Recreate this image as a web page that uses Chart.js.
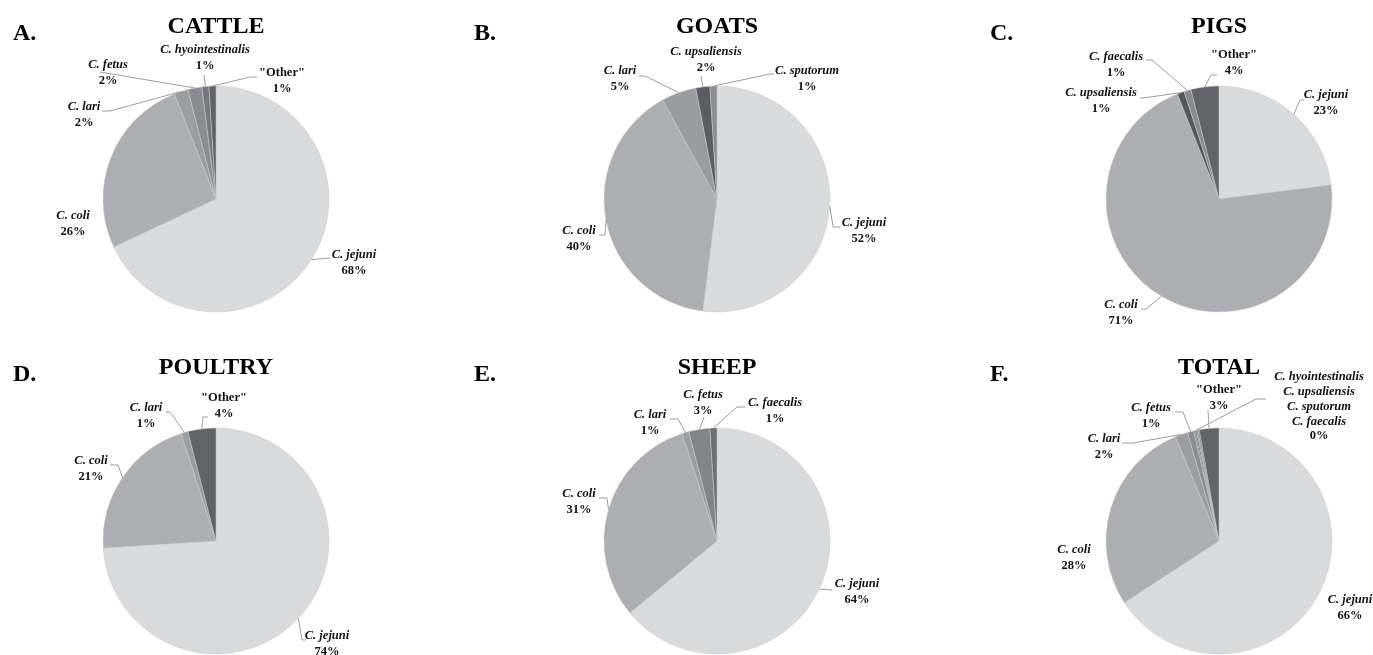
<!DOCTYPE html>
<html>
<head>
<meta charset="utf-8">
<script src="https://cdn.jsdelivr.net/npm/chart.js@4/dist/chart.umd.min.js"></script>
<style>
  body { margin: 0; background: #fff; }
  #wrap { position: relative; width: 1373px; height: 655px; overflow: hidden; }
  #wrap canvas { position: absolute; }
</style>
</head>
<body>
<div id="wrap"></div>
<script>
// data (percent of isolates per species)
const cattleSpecies = ['C. jejuni', 'C. coli', 'C. lari', 'C. fetus', 'C. hyointestinalis', '"Other"'];
const cattleValues = [68, 26, 2, 2, 1, 1];

const goatSpecies = ['C. jejuni', 'C. coli', 'C. lari', 'C. upsaliensis', 'C. sputorum'];
const goatValues = [52, 40, 5, 2, 1];

const pigSpecies = ['C. jejuni', 'C. coli', 'C. upsaliensis', 'C. faecalis', '"Other"'];
const pigValues = [23, 71, 1, 1, 4];

const poultrySpecies = ['C. jejuni', 'C. coli', 'C. lari', '"Other"'];
const poultryValues = [74, 21, 1, 4];

const sheepSpecies = ['C. jejuni', 'C. coli', 'C. lari', 'C. fetus', 'C. faecalis'];
const sheepValues = [64, 31, 1, 3, 1];

const totalSpecies = ['C. jejuni', 'C. coli', 'C. lari', 'C. fetus', 'C. hyointestinalis',
  'C. upsaliensis', 'C. sputorum', 'C. faecalis', '"Other"'];
const totalValues = [65.8, 27.9, 1.8, 0.9, 0.2, 0.2, 0.2, 0.2, 2.8];

const JEJ = '#d9dadc', COLI = '#adaeb1';
const R = 113;

// panel boxes, pie centres, label spots (t = text centre offset, a = leader end + stub)
const panels = [
  { letter: 'A.', title: 'CATTLE', names: cattleSpecies, values: cattleValues,
    colors: [JEJ, COLI, '#9c9da0', '#8b8c8f', '#77787b', '#626366'],
    px: 0, py: 0, cx: 216, cy: 199, titleY: 33, letterX: 13, letterY: 40,
    spots: [
      { i: 0, t: [138, 56], a: [114, 59, 0] },
      { i: 1, t: [-143, 17] },
      { i: 2, t: [-132, -92], a: [-106, -88, -8] },
      { i: 3, t: [-108, -134], a: [-116, -127, 0] },
      { i: 4, t: [-11, -149], a: [-12, -124, 0] },
      { i: 5, t: [66, -126], a: [34, -122, 7] }
    ] },
  { letter: 'B.', title: 'GOATS', names: goatSpecies, values: goatValues,
    colors: [JEJ, COLI, '#9a9b9e', '#5c5d60', '#8c8d90'],
    px: 457, py: 0, cx: 717, cy: 199, titleY: 33, letterX: 474, letterY: 40,
    spots: [
      { i: 0, t: [147, 24], a: [116, 28, 7] },
      { i: 1, t: [-138, 32], a: [-112, 36, -6] },
      { i: 2, t: [-97, -128], a: [-72, -123, -6] },
      { i: 3, t: [-11, -147], a: [-16, -123, 0] },
      { i: 4, t: [90, -128], a: [53, -125, 4] }
    ] },
  { letter: 'C.', title: 'PIGS', names: pigSpecies, values: pigValues,
    colors: [JEJ, COLI, '#555659', '#8a8b8e', '#636467'],
    px: 914, py: 0, cx: 1219, cy: 199, titleY: 33, letterX: 990, letterY: 40,
    spots: [
      { i: 0, t: [107, -104], a: [81, -99, 4] },
      { i: 1, t: [-98, 106], a: [-73, 110, -5] },
      { i: 2, t: [-118, -106], a: [-76, -101, -3] },
      { i: 3, t: [-103, -142], a: [-67, -139, -6] },
      { i: 4, t: [15, -144], a: [-8, -124, 6] }
    ] },
  { letter: 'D.', title: 'POULTRY', names: poultrySpecies, values: poultryValues,
    colors: [JEJ, COLI, '#9c9da0', '#626366'],
    px: 0, py: 327, cx: 216, cy: 541, titleY: 374, letterX: 13, letterY: 381,
    spots: [
      { i: 0, t: [111, 95], a: [86, 99, 4] },
      { i: 1, t: [-125, -80], a: [-98, -76, -8] },
      { i: 2, t: [-70, -133], a: [-46, -129, -4] },
      { i: 3, t: [8, -143], a: [-13, -124, 5] }
    ] },
  { letter: 'E.', title: 'SHEEP', names: sheepSpecies, values: sheepValues,
    colors: [JEJ, COLI, '#9c9da0', '#838487', '#6e6f72'],
    px: 457, py: 327, cx: 717, cy: 541, titleY: 374, letterX: 474, letterY: 381,
    spots: [
      { i: 0, t: [140, 43], a: [115, 49, 0] },
      { i: 1, t: [-138, -47], a: [-110, -43, -8] },
      { i: 2, t: [-67, -126], a: [-39, -122, -8] },
      { i: 3, t: [-14, -146], a: [-13, -124, 0] },
      { i: 4, t: [58, -138], a: [20, -134, 8] }
    ] },
  { letter: 'F.', title: 'TOTAL', names: totalSpecies, values: totalValues,
    colors: [JEJ, COLI, '#9c9da0', '#8b8c8f', '#77787b', '#5c5d60', '#8c8d90', '#6e6f72', '#636467'],
    px: 914, py: 327, cx: 1219, cy: 541, titleY: 374, letterX: 990, letterY: 381,
    spots: [
      { i: 0, t: [131, 59] },
      { i: 1, t: [-145, 9] },
      { i: 2, t: [-115, -102], a: [-86, -98, -11] },
      { i: 3, t: [-68, -133], a: [-36, -129, -8] },
      { i: 5, merge: [4, 5, 6, 7], lh: 14.8, t: [100, -164], a: [37, -142, 10] },
      { i: 8, t: [0, -151], a: [-11, -131, 0] }
    ] }
];

const SERIF = '"Liberation Serif", "Times New Roman", serif';

const panelText = {
  id: 'panelText',
  afterDraw(chart, args, opts) {
    const ctx = chart.ctx;
    const meta = chart.getDatasetMeta(0);
    const cx = meta.data[0].x, cy = meta.data[0].y;
    const names = chart.data.labels;
    const values = chart.data.datasets[0].data;
    ctx.save();
    ctx.fillStyle = '#000';
    ctx.font = 'bold 24px ' + SERIF;
    ctx.textBaseline = 'alphabetic';
    ctx.textAlign = 'center';
    ctx.fillText(opts.title, cx, opts.titleY);
    ctx.textAlign = 'left';
    ctx.fillText(opts.letter, opts.letterX, opts.letterY);

    opts.spots.forEach(s => {
      const arc = meta.data[s.i];
      const mid = (arc.startAngle + arc.endAngle) / 2;
      if (s.a) {
        ctx.strokeStyle = '#9d9d9d';
        ctx.lineWidth = 1;
        ctx.beginPath();
        ctx.moveTo(cx + Math.cos(mid) * arc.outerRadius, cy + Math.sin(mid) * arc.outerRadius);
        ctx.lineTo(cx + s.a[0], cy + s.a[1]);
        if (s.a[2]) ctx.lineTo(cx + s.a[0] + s.a[2], cy + s.a[1]);
        ctx.stroke();
      }
      const lines = (s.merge || [s.i]).map(k => names[k]);
      lines.push(Math.round(values[s.i]) + '%');
      const lh = s.lh || 16;
      ctx.textAlign = 'center';
      ctx.textBaseline = 'middle';
      ctx.fillStyle = '#111';
      lines.forEach((txt, k) => {
        const italic = txt.startsWith('C. ');
        ctx.font = (italic ? 'italic bold ' : 'bold ') + '12.5px ' + SERIF;
        ctx.fillText(txt, cx + s.t[0], cy + s.t[1] + k * lh);
      });
    });
    ctx.restore();
  }
};

const wrap = document.getElementById('wrap');
panels.forEach(p => {
  const w = p.px === 914 ? 459 : 457;
  const h = p.py === 0 ? 327 : 328;
  const canvas = document.createElement('canvas');
  canvas.width = w;
  canvas.height = h;
  canvas.style.left = p.px + 'px';
  canvas.style.top = p.py + 'px';
  canvas.style.width = w + 'px';
  canvas.style.height = h + 'px';
  wrap.appendChild(canvas);

  const lx = p.cx - p.px, ly = p.cy - p.py;
  new Chart(canvas, {
    type: 'pie',
    data: {
      labels: p.names,
      datasets: [{
        data: p.values,
        backgroundColor: p.colors,
        borderColor: '#c9cacc',
        borderWidth: 0.5
      }]
    },
    options: {
      responsive: false,
      animation: false,
      radius: R,
      layout: {
        padding: { left: lx - R, top: ly - R, right: w - lx - R, bottom: h - ly - R }
      },
      plugins: {
        legend: { display: false },
        tooltip: { enabled: false },
        panelText: {
          title: p.title, letter: p.letter,
          titleY: p.titleY - p.py,
          letterX: p.letterX - p.px, letterY: p.letterY - p.py,
          spots: p.spots
        }
      }
    },
    plugins: [panelText]
  });
});
</script>
</body>
</html>
